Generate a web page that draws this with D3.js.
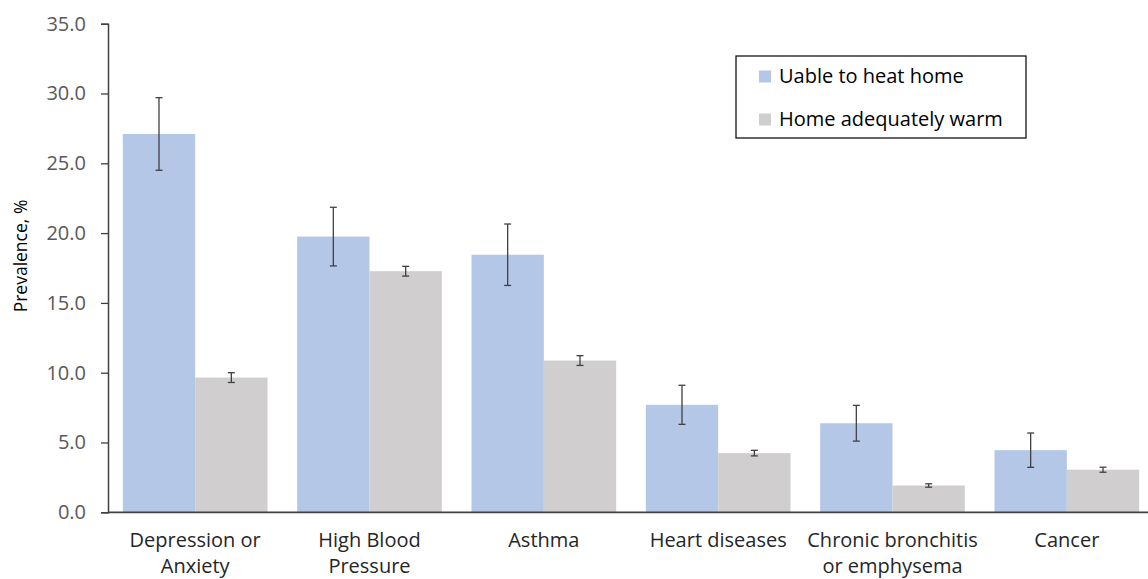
<!DOCTYPE html>
<html><head><meta charset="utf-8">
<script src="https://cdn.jsdelivr.net/npm/d3@7"></script>
<style>body{margin:0;background:#fff}svg{display:block}text{font-family:"Open Sans",Lato,sans-serif}</style>
</head><body>
<svg id="c" width="1148" height="579"></svg>
<script>
const categories = [["Depression or","Anxiety"],["High Blood","Pressure"],["Asthma"],["Heart diseases"],["Chronic bronchitis","or emphysema"],["Cancer"]];
const seriesNames = ["Uable to heat home","Home adequately warm"];
const unableValues = [27.1, 19.75, 18.45, 7.7, 6.38, 4.45];
const unableErr = [2.6, 2.1, 2.2, 1.4, 1.28, 1.23];
const warmValues = [9.65, 17.27, 10.87, 4.24, 1.92, 3.05];
const warmErr = [0.35, 0.35, 0.35, 0.2, 0.12, 0.18];
const yTicks = [0,5,10,15,20,25,30,35];
const colors = ["#B4C7E7","#D0CECE"];

const svg = d3.select("#c");
const mLeft = 108, mRight = 1154, mTop = 23.7, mBottom = 512.3;
const x = d3.scaleBand().domain(d3.range(categories.length)).range([mLeft,mRight]).paddingInner(0.17).paddingOuter(0.085);
const xs = d3.scaleBand().domain([0,1]).range([0,x.bandwidth()]);
const y = d3.scaleLinear().domain([0,35]).range([mBottom,mTop]);

const series = [unableValues, warmValues];
const errs = [unableErr, warmErr];
series.forEach((vals,si)=>{
  const g = svg.append("g");
  g.selectAll("rect").data(vals).join("rect")
    .attr("x",(d,i)=>x(i)+xs(si)).attr("width",xs.bandwidth())
    .attr("y",d=>y(d)).attr("height",d=>y(0)-y(d)).attr("fill",colors[si]);
});
series.forEach((vals,si)=>{
  const g = svg.append("g").attr("stroke","#404040").attr("stroke-width",1.3);
  vals.forEach((v,i)=>{
    const cx = x(i)+xs(si)+xs.bandwidth()/2;
    const e = errs[si][i];
    g.append("line").attr("x1",cx).attr("x2",cx).attr("y1",y(v+e)).attr("y2",y(v-e));
    g.append("line").attr("x1",cx-3.5).attr("x2",cx+3.5).attr("y1",y(v+e)).attr("y2",y(v+e));
    g.append("line").attr("x1",cx-3.5).attr("x2",cx+3.5).attr("y1",y(v-e)).attr("y2",y(v-e));
  });
});

// y axis
const ya = svg.append("g").attr("transform",`translate(${mLeft},0)`)
  .call(d3.axisLeft(y).tickValues(yTicks).tickFormat(d3.format(".1f")).tickSize(7).tickPadding(15));
ya.select(".domain").attr("stroke","#404040").attr("stroke-width",1.5);
ya.selectAll(".tick line").attr("stroke","#404040").attr("stroke-width",1.3);
ya.selectAll(".tick text").attr("fill","#595959").style("font-size","20px").style("font-family","'Open Sans', Lato, sans-serif");

// x axis line
svg.append("line").attr("x1",mLeft).attr("x2",1148).attr("y1",mBottom).attr("y2",mBottom).attr("stroke","#404040").attr("stroke-width",1.8);

// category labels
categories.forEach((lines,i)=>{
  const t = svg.append("text").attr("x",x(i)+x.bandwidth()/2).attr("y",547).attr("text-anchor","middle")
    .attr("fill","#262626").style("font-size","20px");
  lines.forEach((l,j)=>t.append("tspan").attr("x",x(i)+x.bandwidth()/2).attr("dy",j?25.5:0).text(l));
});

// y label
svg.append("text").attr("transform","translate(27,256) rotate(-90)").attr("text-anchor","middle")
  .attr("fill","#000").style("font-size","17.5px").text("Prevalence, %");

// legend
const lg = svg.append("g");
lg.append("rect").attr("x",736).attr("y",56).attr("width",290).attr("height",82).attr("fill","#fff").attr("stroke","#000").attr("stroke-width",1.2);
seriesNames.forEach((n,i)=>{
  lg.append("rect").attr("x",759).attr("y",70.5+i*43).attr("width",12).attr("height",12).attr("fill",colors[i]);
  lg.append("text").attr("x",779).attr("y",83+i*43).attr("fill","#000").style("font-size","20px").text(n);
});
</script>
</body></html>
